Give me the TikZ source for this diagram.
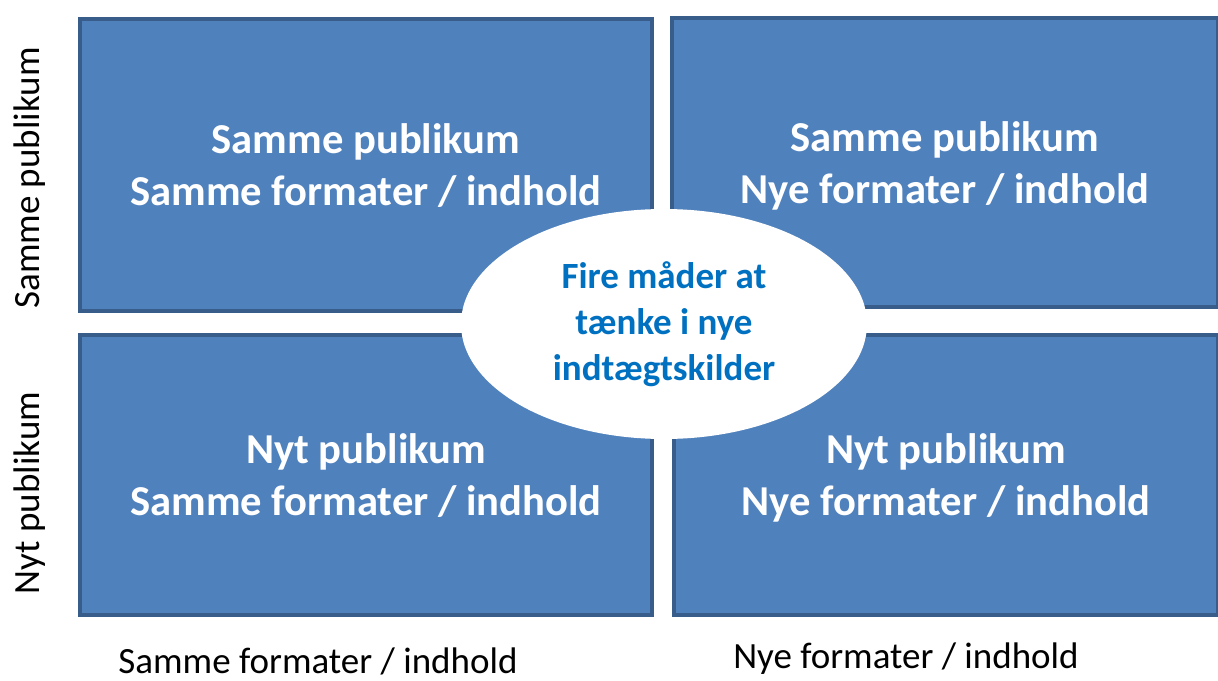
\documentclass[tikz,border=0pt]{standalone}
\usepackage{fontspec}
\setmainfont{Carlito}
\usetikzlibrary{shapes.geometric}
\definecolor{boxfill}{RGB}{79,129,189}
\definecolor{boxline}{RGB}{56,93,138}
\definecolor{midblue}{RGB}{0,112,192}

\begin{document}
\begin{tikzpicture}[x=1pt, y=-1pt,
    quad/.style={draw=boxline, line width=4pt, fill=boxfill, text=white, text depth=0pt,
      font=\fontsize{42.6}{52}\selectfont\bfseries, align=center, inner sep=0pt},
    axis/.style={font=\fontsize{37}{40}\selectfont, inner sep=0pt}]
    \useasboundingbox (0,0) rectangle (1218,680);

    \node (tl) at (366,165) [quad, minimum width=572pt, minimum height=292pt] {Samme publikum\\Samme formater / indhold};
    \node (tr) at (945,162.5) [quad, minimum width=546pt, minimum height=289pt] {Samme publikum\\Nye formater / indhold};
    \node (bl) at (366,475) [quad, minimum width=572pt, minimum height=280pt] {Nyt publikum\\Samme formater / indhold};
    \node (br) at (946,475) [quad, minimum width=544pt, minimum height=280pt] {Nyt publikum\\Nye formater / indhold};

    \node (mid) at (664,324) [ellipse, fill=white, minimum width=406pt, minimum height=230pt, inner sep=0pt,
      text=midblue, align=center, font=\fontsize{37}{46}\selectfont\bfseries] {Fire måder at\\tænke i nye\\indtægtskilder};

    \node (y1) at (30,178) [axis, rotate=90] {Samme publikum};
    \node (y2) at (30,493) [axis, rotate=90] {Nyt publikum};
    \node (x1) at (318,661) [axis] {Samme formater / indhold};
    \node (x2) at (906,659) [axis] {Nye formater / indhold};
\end{tikzpicture}
\end{document}
